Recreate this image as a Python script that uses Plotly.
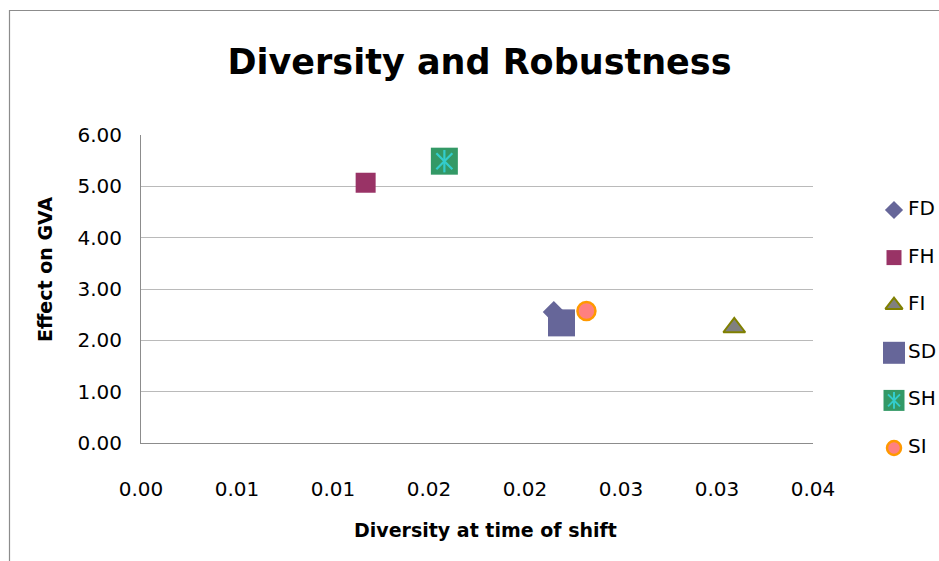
import plotly.graph_objects as go

W, H = 939, 561

# Series data: diversity at time of shift (x) vs. effect on GVA (y)
series_names = ["FD", "FH", "FI", "SD", "SH", "SI"]
diversity = [0.0215, 0.0117, 0.0309, 0.0219, 0.0158, 0.0232]
effect_gva = [2.55, 5.07, 2.25, 2.34, 5.49, 2.57]

# Axis ticks
x_tickvals = [0.0, 0.005, 0.010, 0.015, 0.020, 0.025, 0.030, 0.035]
x_ticktext = ["0.00", "0.01", "0.01", "0.02", "0.02", "0.03", "0.03", "0.04"]
y_tickvals = [0, 1, 2, 3, 4, 5, 6]
y_ticktext = ["0.00", "1.00", "2.00", "3.00", "4.00", "5.00", "6.00"]

# Marker styles per series
styles = {
    "FD": dict(symbol="diamond", size=17, color="#666699", line=dict(width=0)),
    "FH": dict(symbol="square", size=20, color="#993366", line=dict(width=0)),
    "FI": dict(symbol="triangle-up", size=19, color="#808080", line=dict(width=2, color="#808000")),
    "SD": dict(symbol="square", size=27, color="#666699", line=dict(width=0)),
    "SH": dict(symbol="square", size=27, color="#339966", line=dict(width=0)),
    "SI": dict(symbol="circle", size=18, color="#FF8080", line=dict(width=2.5, color="#FF9900")),
}
legend_styles = {
    "FD": dict(symbol="diamond", size=14, color="#666699", line=dict(width=0)),
    "FH": dict(symbol="square", size=15, color="#993366", line=dict(width=0)),
    "FI": dict(symbol="triangle-up", size=15, color="#808080", line=dict(width=2, color="#808000")),
    "SD": dict(symbol="square", size=22, color="#666699", line=dict(width=0)),
    "SH": dict(symbol="square", size=21, color="#339966", line=dict(width=0)),
    "SI": dict(symbol="circle", size=14, color="#FF8080", line=dict(width=2.5, color="#FF9900")),
}
STAR = "#33CCCC"

FONT = "DejaVu Sans, Verdana, sans-serif"

fig = go.Figure()

# Main scatter points
for name, xv, yv in zip(series_names, diversity, effect_gva):
    fig.add_trace(go.Scatter(x=[xv], y=[yv], mode="markers", name=name,
                             marker=styles[name], showlegend=False,
                             xaxis="x", yaxis="y"))
    if name == "SH":
        # asterisk drawn over the square
        for sym in ("line-ns-open", "x-thin-open"):
            fig.add_trace(go.Scatter(x=[xv], y=[yv], mode="markers", showlegend=False,
                                     marker=dict(symbol=sym, size=16, color=STAR,
                                                 line=dict(width=2.2, color=STAR)),
                                     hoverinfo="skip", xaxis="x", yaxis="y"))

# Legend drawn on its own pixel-scaled axes at the right
leg_x0, leg_x1 = 845, 939
leg_marker_x = 894
leg_text_x = 908
leg_top = 210
leg_step = 47.6
leg_y = [leg_top + i * leg_step for i in range(len(series_names))]

for name, ly in zip(series_names, leg_y):
    fig.add_trace(go.Scatter(x=[leg_marker_x], y=[ly], mode="markers", showlegend=False,
                             marker=legend_styles[name], hoverinfo="skip",
                             xaxis="x2", yaxis="y2"))
    if name == "SH":
        for sym in ("line-ns-open", "x-thin-open"):
            fig.add_trace(go.Scatter(x=[leg_marker_x], y=[ly], mode="markers", showlegend=False,
                                     marker=dict(symbol=sym, size=12, color=STAR,
                                                 line=dict(width=2, color=STAR)),
                                     hoverinfo="skip", xaxis="x2", yaxis="y2"))
fig.add_trace(go.Scatter(x=[leg_text_x] * len(series_names), y=leg_y, mode="text",
                         text=series_names, textposition="middle right",
                         textfont=dict(family=FONT, size=20, color="black"),
                         showlegend=False, hoverinfo="skip", cliponaxis=False,
                         xaxis="x2", yaxis="y2"))

# Plot area in pixels
PL, PR, PT, PB = 141, 813, 135, 443

grid_col = "#BABABA"
axis_col = "#8C8C8C"

fig.update_layout(
    template="none",
    width=W, height=H,
    margin=dict(l=0, r=0, t=0, b=0, autoexpand=False),
    paper_bgcolor="white",
    plot_bgcolor="rgba(0,0,0,0)",
    showlegend=False,
    font=dict(family=FONT, color="black"),
    title=dict(text="<b>Diversity and Robustness</b>",
               x=479.5 / W, y=1 - 62 / H, xanchor="center", yanchor="middle",
               font=dict(family=FONT, size=35, color="black")),
    xaxis=dict(domain=[PL / W, PR / W], range=[0, 0.035], automargin=False,
               tickvals=x_tickvals, ticktext=x_ticktext,
               tickfont=dict(size=20, family=FONT, color="black"),
               showgrid=False, zeroline=False,
               showline=True, linecolor=axis_col, linewidth=1,
               ticks="", ticklabelstandoff=28, anchor="y", fixedrange=True),
    yaxis=dict(domain=[(H - PB) / H, (H - PT) / H], range=[0, 6], automargin=False,
               tickvals=y_tickvals, ticktext=y_ticktext,
               tickfont=dict(size=20, family=FONT, color="black"),
               showgrid=True, gridcolor=grid_col, gridwidth=1, zeroline=False,
               showline=True, linecolor=axis_col, linewidth=1,
               ticks="", ticklabelstandoff=14, anchor="x", fixedrange=True),
    xaxis2=dict(domain=[leg_x0 / W, leg_x1 / W], range=[leg_x0, leg_x1],
                visible=False, anchor="y2", fixedrange=True, automargin=False),
    yaxis2=dict(domain=[0, 1], range=[H, 0],
                visible=False, anchor="x2", fixedrange=True, automargin=False),
    annotations=[
        dict(text="<b>Effect on GVA</b>", x=45 / W, y=1 - 270 / H,
             xref="paper", yref="paper", textangle=-90, showarrow=False,
             xanchor="center", yanchor="middle",
             font=dict(family=FONT, size=19, color="black")),
        dict(text="<b>Diversity at time of shift</b>", x=485 / W, y=1 - 530 / H,
             xref="paper", yref="paper", showarrow=False,
             xanchor="center", yanchor="middle",
             font=dict(family=FONT, size=19, color="black")),
    ],
    shapes=[
        # outer chart border
        dict(type="rect", xref="paper", yref="paper",
             x0=9.5 / W, x1=1.2, y0=-0.2, y1=1 - 10.5 / H,
             line=dict(color="#8C8C8C", width=1.2), fillcolor="rgba(0,0,0,0)",
             layer="below"),
    ],
)

fig.write_html("out.html")
